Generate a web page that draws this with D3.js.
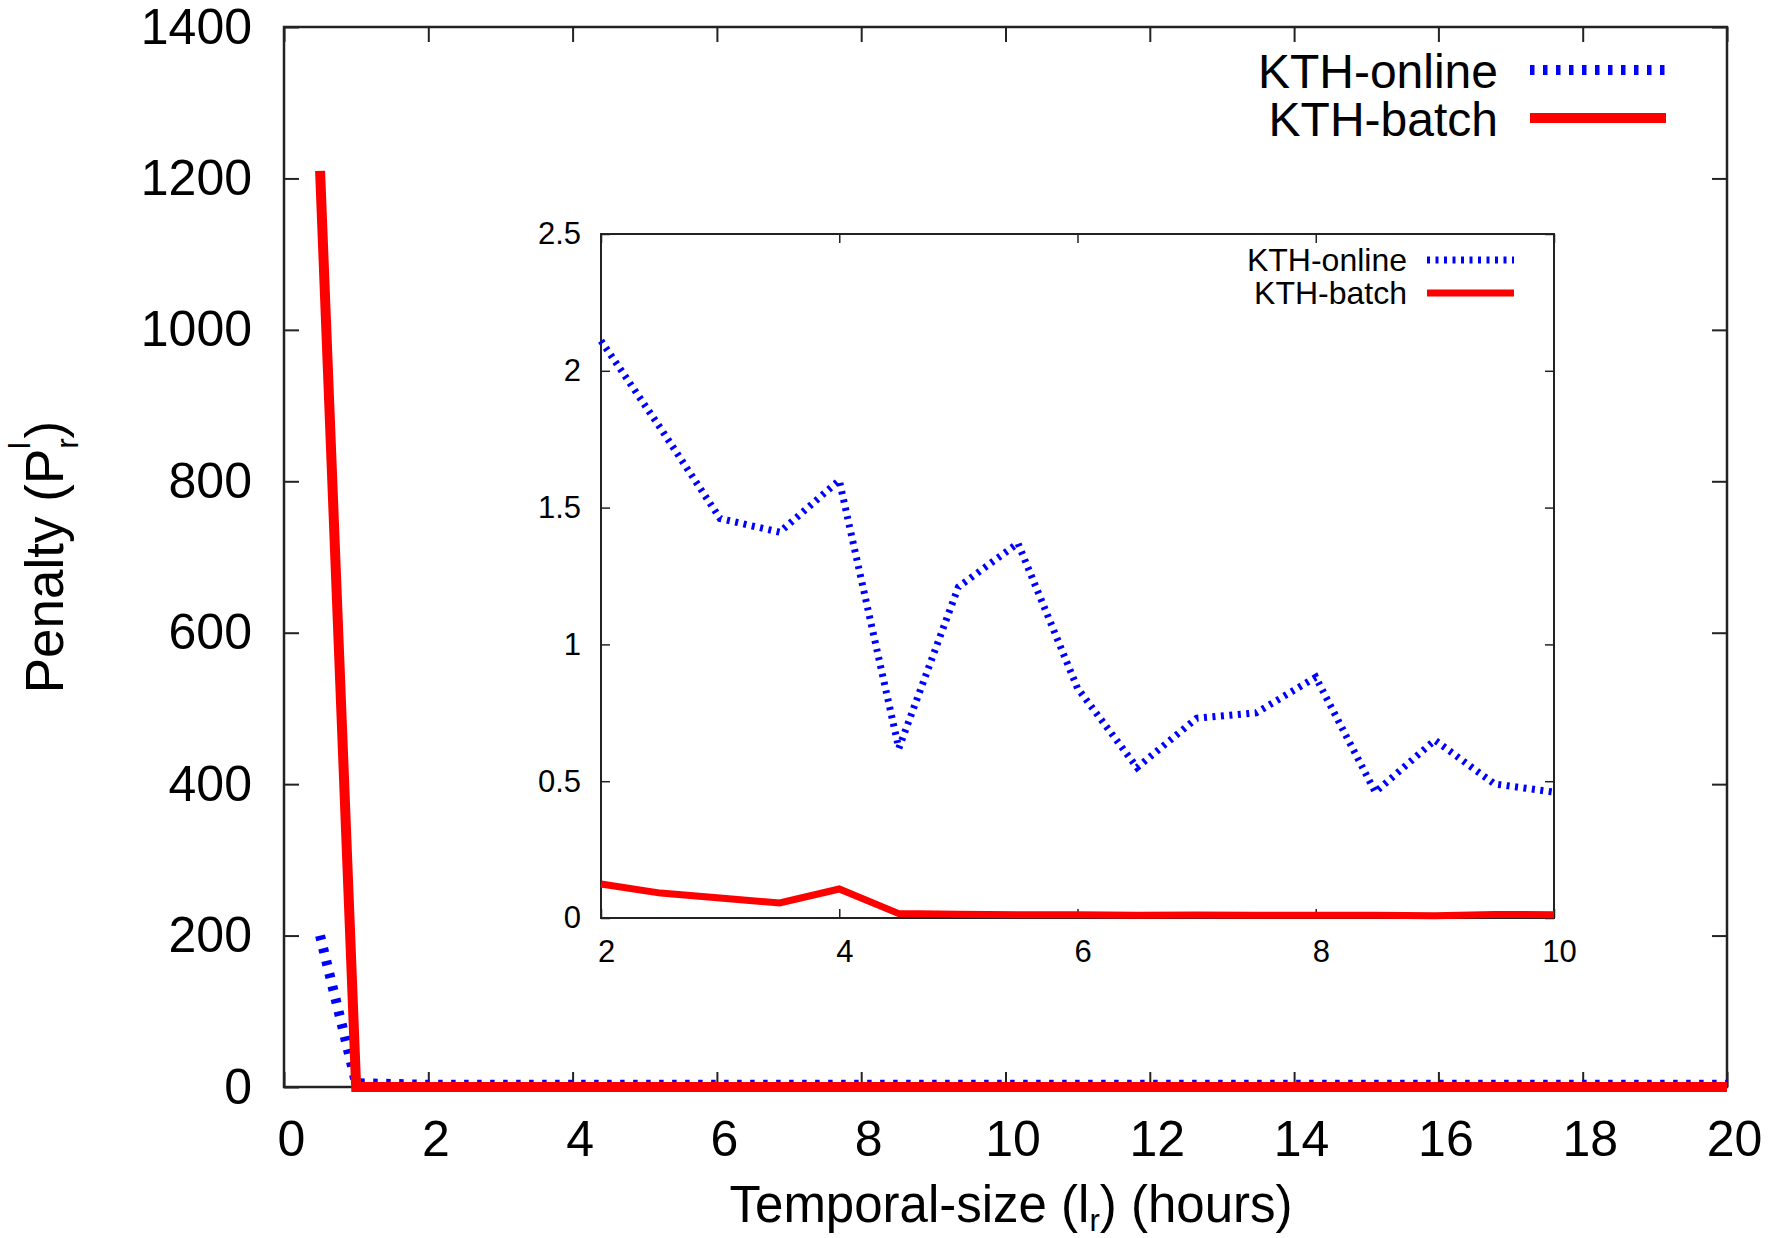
<!DOCTYPE html>
<html>
<head>
<meta charset="utf-8">
<script src="https://cdn.jsdelivr.net/npm/d3@7"></script>
<style>
    body { margin: 0; background: #fff; }
    svg text { font-family: "Liberation Sans", Arial, Helvetica, sans-serif; fill: #000; }
</style>
</head>
<body>
<div id="chart"></div>
<script>
// main plot data (hours vs penalty)
const mainHours = [0.5, 1, 1.5, 2, 2.5, 3, 3.5, 4, 4.5, 5, 5.5, 6, 6.5, 7, 7.5, 8, 8.5, 9, 9.5, 10,
    10.5, 11, 11.5, 12, 12.5, 13, 13.5, 14, 14.5, 15, 15.5, 16, 16.5, 17, 17.5, 18, 18.5, 19, 19.5, 20];
const mainOnline = [200, 5, 4, 3, 3, 3, 3, 3, 3, 3, 3, 3, 3, 3, 3, 3, 3, 3, 3, 3,
    3, 3, 3, 3, 3, 3, 3, 3, 3, 3, 3, 3, 3, 3, 3, 3, 3, 3, 3, 3];
const mainBatch = [1210, 0, 0, 0, 0, 0, 0, 0, 0, 0, 0, 0, 0, 0, 0, 0, 0, 0, 0, 0,
    0, 0, 0, 0, 0, 0, 0, 0, 0, 0, 0, 0, 0, 0, 0, 0, 0, 0, 0, 0];
const mainXTicks = [0, 2, 4, 6, 8, 10, 12, 14, 16, 18, 20];
const mainYTicks = [0, 200, 400, 600, 800, 1000, 1200, 1400];

// inset (zoom on 2..10 hours)
const insetHours = [2, 2.5, 3, 3.5, 4, 4.5, 5, 5.5, 6, 6.5, 7, 7.5, 8, 8.5, 9, 9.5, 10];
const insetOnline = [2.11, 1.79, 1.46, 1.41, 1.60, 0.62, 1.21, 1.37, 0.84, 0.55, 0.73, 0.75, 0.88, 0.46, 0.65, 0.49, 0.46];
const insetBatch = [0.124, 0.091, 0.073, 0.055, 0.106, 0.016, 0.014, 0.012, 0.012, 0.010, 0.011, 0.010, 0.010, 0.010, 0.008, 0.013, 0.012];
const insetXTicks = [2, 4, 6, 8, 10];
const insetYTicks = [0, 0.5, 1, 1.5, 2, 2.5];

const seriesNames = ["KTH-online", "KTH-batch"];
const blue = "#0000ff", red = "#ff0000";

const W = 1779, H = 1238;
const svg = d3.select("#chart").append("svg")
    .attr("width", W)
    .attr("height", H);

// ---------- main plot ----------
const m = { left: 284, right: 1727, top: 27, bottom: 1087 };

const x = d3.scaleLinear().domain([0, 20]).range([m.left, m.right]);
const y = d3.scaleLinear().domain([0, 1400]).range([m.bottom, m.top]);

function frameAxes(g, xs, ys, box, xt, yt, tick, fs, padX, padY, shiftX) {
    g.append("g")
        .attr("transform", "translate(0," + box.bottom + ")")
        .call(d3.axisBottom(xs).tickValues(xt).tickSize(-tick).tickPadding(padX).tickFormat(d3.format("")))
        .call(a => a.select(".domain").remove())
        .selectAll("text").attr("dx", shiftX).style("font-size", fs + "px");
    g.append("g")
        .attr("transform", "translate(0," + box.top + ")")
        .call(d3.axisTop(xs).tickValues(xt).tickSize(-tick).tickFormat(""))
        .call(a => a.select(".domain").remove());
    g.append("g")
        .attr("transform", "translate(" + box.left + ",0)")
        .call(d3.axisLeft(ys).tickValues(yt).tickSize(-tick).tickPadding(padY).tickFormat(d3.format("")))
        .call(a => a.select(".domain").remove())
        .selectAll("text").style("font-size", fs + "px");
    g.append("g")
        .attr("transform", "translate(" + box.right + ",0)")
        .call(d3.axisRight(ys).tickValues(yt).tickSize(-tick).tickFormat(""))
        .call(a => a.select(".domain").remove());
    g.selectAll(".tick line").attr("stroke", "#222").attr("stroke-width", 2);
    g.append("rect")
        .attr("x", box.left).attr("y", box.top)
        .attr("width", box.right - box.left).attr("height", box.bottom - box.top)
        .attr("fill", "none").attr("stroke", "#222").attr("stroke-width", 2.5);
}

const main = svg.append("g");
frameAxes(main, x, y, m, mainXTicks, mainYTicks, 15, 50, 33, 32, 7);

const mainLine = vals => d3.line()
    .x((d, i) => x(mainHours[i]))
    .y(d => y(d))(vals);

main.append("path")
    .attr("d", mainLine(mainOnline))
    .attr("fill", "none")
    .attr("stroke", blue)
    .attr("stroke-width", 10)
    .attr("stroke-dasharray", "4.5 8.5");

main.append("path")
    .attr("d", mainLine(mainBatch))
    .attr("fill", "none")
    .attr("stroke", red)
    .attr("stroke-width", 10);

// axis titles
const xTitle = svg.append("text")
    .attr("x", 1011)
    .attr("y", 1222)
    .attr("text-anchor", "middle")
    .style("font-size", "51px");
xTitle.append("tspan").text("Temporal-size (l");
xTitle.append("tspan").attr("dy", 9).style("font-size", "31px").text("r");
xTitle.append("tspan").attr("dy", -9).text(") (hours)");

const yTitle = svg.append("text")
    .attr("transform", "translate(63,557) rotate(-90)")
    .attr("text-anchor", "middle")
    .style("font-size", "53px");
yTitle.append("tspan").text("Penalty (P");
yTitle.append("tspan").attr("dy", 15).style("font-size", "32px").text("r");
yTitle.append("tspan").attr("dy", -48).attr("dx", -11).style("font-size", "30px").text("l");
yTitle.append("tspan").attr("dy", 33).attr("dx", 4).text(")");

// main legend
const legMain = svg.append("g");
seriesNames.forEach((name, i) => {
    const ly = [70, 118][i];
    legMain.append("text")
        .attr("x", 1498).attr("y", ly + 18)
        .attr("text-anchor", "end")
        .style("font-size", "48px")
        .text(name);
    legMain.append("line")
        .attr("x1", 1530).attr("x2", 1666)
        .attr("y1", ly).attr("y2", ly)
        .attr("stroke", i === 0 ? blue : red)
        .attr("stroke-width", 10)
        .attr("stroke-dasharray", i === 0 ? "4.5 8.5" : null);
});

// ---------- inset ----------
const n = { left: 601, right: 1554, top: 234, bottom: 918 };
const xi = d3.scaleLinear().domain([2, 10]).range([n.left, n.right]);
const yi = d3.scaleLinear().domain([0, 2.5]).range([n.bottom, n.top]);

const inset = svg.append("g");
inset.append("rect")
    .attr("x", n.left).attr("y", n.top)
    .attr("width", n.right - n.left).attr("height", n.bottom - n.top)
    .attr("fill", "#fff");
frameAxes(inset, xi, yi, n, insetXTicks, insetYTicks, 9, 31, 22, 20, 5);
inset.selectAll(".tick line").attr("stroke-width", 1.5);
inset.select("rect:last-of-type").attr("stroke-width", 2);

const insetLine = vals => d3.line()
    .x((d, i) => xi(insetHours[i]))
    .y(d => yi(d))(vals);

inset.append("path")
    .attr("d", insetLine(insetOnline))
    .attr("fill", "none")
    .attr("stroke", blue)
    .attr("stroke-width", 7)
    .attr("stroke-dasharray", "3 5.5");

inset.append("path")
    .attr("d", insetLine(insetBatch))
    .attr("fill", "none")
    .attr("stroke", red)
    .attr("stroke-width", 7);

seriesNames.forEach((name, i) => {
    const ly = [260, 293][i];
    inset.append("text")
        .attr("x", 1407).attr("y", ly + 11)
        .attr("text-anchor", "end")
        .style("font-size", "32px")
        .text(name);
    inset.append("line")
        .attr("x1", 1427).attr("x2", 1514)
        .attr("y1", ly).attr("y2", ly)
        .attr("stroke", i === 0 ? blue : red)
        .attr("stroke-width", 7)
        .attr("stroke-dasharray", i === 0 ? "3 5.5" : null);
});
</script>
</body>
</html>
